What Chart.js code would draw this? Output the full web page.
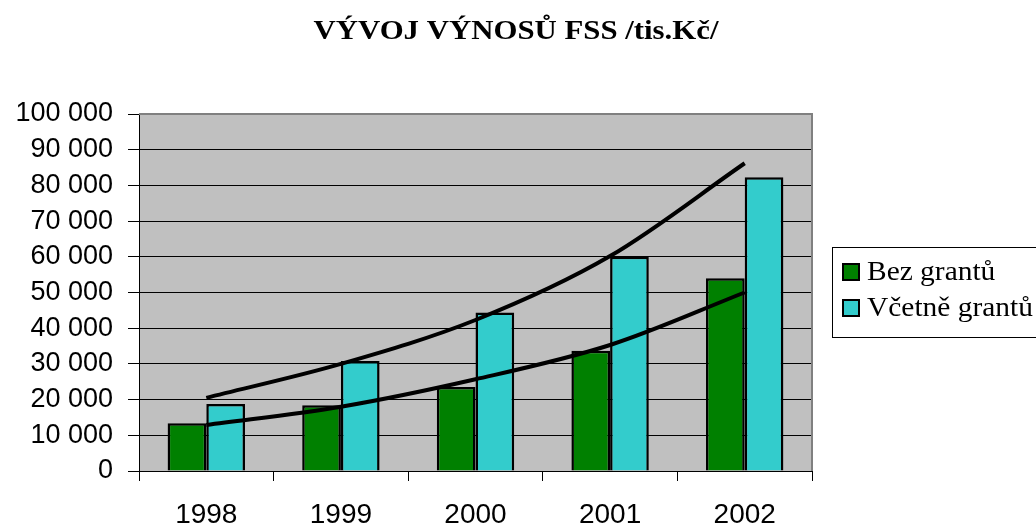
<!DOCTYPE html>
<html>
<head>
<meta charset="utf-8">
<title>Vývoj výnosů FSS</title>
<script src="https://cdn.jsdelivr.net/npm/chart.js@4"></script>
<style>
    html, body { margin: 0; padding: 0; background: #fff; overflow: hidden; }
    #wrap { width: 1036px; height: 524px; }
</style>
</head>
<body>
<div id="wrap"><canvas id="myChart" width="1036" height="524"></canvas></div>
<script>
// données (tis. Kč)
const nadpis = 'VÝVOJ VÝNOSŮ FSS /tis.Kč/';
const roky = ['1998', '1999', '2000', '2001', '2002'];
const bezGrantu = [13400, 18400, 23500, 33700, 54000];
const vcetneGrantu = [18800, 30800, 44400, 60000, 82300];
// courbes de tendance (exponentielles)
const trendBez = [12900, 18000, 25700, 35300, 50000];
const trendVcetne = [20500, 30000, 42300, 60200, 86200];
const yTicks = [0, 10000, 20000, 30000, 40000, 50000, 60000, 70000, 80000, 90000, 100000];

function formatNum(v) {
    return String(v).replace(/\B(?=(\d{3})+(?!\d))/g, ' ');
}

// fond gris + bordure du graphique + titre
const plotArea = {
    id: 'plotArea',
    beforeDraw(chart) {
        const a = chart.chartArea;
        const ctx = chart.ctx;
        ctx.save();
        ctx.fillStyle = '#c0c0c0';
        ctx.fillRect(a.left, a.top, a.right - a.left, a.bottom - a.top);
        ctx.restore();
    },
    afterDraw(chart) {
        const a = chart.chartArea;
        const ctx = chart.ctx;
        ctx.save();
        ctx.strokeStyle = '#808080';
        ctx.lineWidth = 2;
        ctx.beginPath();
        ctx.moveTo(a.left, a.top);
        ctx.lineTo(a.right, a.top);
        ctx.lineTo(a.right, a.bottom);
        ctx.stroke();
        ctx.restore();

        // titre, un peu étiré en largeur comme dans l'original
        ctx.save();
        ctx.font = 'bold 28px "Liberation Serif", "Times New Roman", serif';
        ctx.fillStyle = '#000';
        ctx.textAlign = 'center';
        ctx.textBaseline = 'alphabetic';
        ctx.translate(516, 39);
        ctx.scale(1.1, 1);
        ctx.fillText(nadpis, 0, 0);
        ctx.restore();
    }
};

// légende encadrée à droite
const boxLegend = {
    id: 'boxLegend',
    afterDraw(chart) {
        const ctx = chart.ctx;
        const items = chart.data.datasets.filter(d => d.type === 'bar');
        const x = 832, y = 247, w = 230, h = 90;
        ctx.save();
        ctx.fillStyle = '#fff';
        ctx.fillRect(x, y, w, h);
        ctx.strokeStyle = '#000';
        ctx.lineWidth = 1;
        ctx.strokeRect(x + 0.5, y + 0.5, w, h);
        ctx.font = '27px "Liberation Serif", "Times New Roman", serif';
        ctx.textBaseline = 'middle';
        items.forEach((d, i) => {
            const cy = 272 + i * 36;
            ctx.fillStyle = d.backgroundColor;
            ctx.fillRect(843, cy - 8, 16, 16);
            ctx.lineWidth = 2;
            ctx.strokeStyle = '#000';
            ctx.strokeRect(843, cy - 8, 16, 16);
            ctx.save();
            ctx.translate(867, cy + 1);
            ctx.scale(1.09, 1);
            ctx.fillStyle = '#000';
            ctx.fillText(d.label, 0, 0);
            ctx.restore();
        });
        ctx.restore();
    }
};

const ctx = document.getElementById('myChart').getContext('2d');
const myChart = new Chart(ctx, {
    data: {
        labels: roky,
        datasets: [
            {
                type: 'line',
                label: 'trend Včetně',
                data: trendVcetne,
                borderColor: '#000',
                borderWidth: 4,
                pointRadius: 0,
                cubicInterpolationMode: 'monotone',
                fill: false,
                order: 0
            },
            {
                type: 'line',
                label: 'trend Bez',
                data: trendBez,
                borderColor: '#000',
                borderWidth: 4,
                pointRadius: 0,
                cubicInterpolationMode: 'monotone',
                fill: false,
                order: 0
            },
            {
                type: 'bar',
                label: 'Bez grantů',
                data: bezGrantu,
                backgroundColor: '#008000',
                borderColor: '#000',
                borderWidth: 2.5,
                categoryPercentage: 0.575,
                barPercentage: 1,
                order: 1
            },
            {
                type: 'bar',
                label: 'Včetně grantů',
                data: vcetneGrantu,
                backgroundColor: '#33cccc',
                borderColor: '#000',
                borderWidth: 2.5,
                categoryPercentage: 0.575,
                barPercentage: 1,
                order: 1
            }
        ]
    },
    options: {
        responsive: false,
        animation: false,
        layout: {
            padding: { left: 0, right: 224, top: 114, bottom: 0 }
        },
        plugins: {
            legend: { display: false },
            tooltip: { enabled: false },
            title: { display: false }
        },
        scales: {
            x: {
                offset: true,
                grid: {
                    offset: true,
                    drawOnChartArea: false,
                    drawTicks: true,
                    tickLength: 10,
                    color: '#000'
                },
                border: { color: '#000', width: 1 },
                ticks: {
                    color: '#000',
                    padding: 17,
                    maxRotation: 0,
                    font: { family: '"Liberation Sans", Arial, sans-serif', size: 28 }
                },
                afterFit(scale) { scale.height = 53; }
            },
            y: {
                min: 0,
                max: 100000,
                afterBuildTicks(scale) {
                    scale.ticks = yTicks.map(v => ({ value: v }));
                },
                grid: {
                    color: '#000',
                    lineWidth: 1,
                    tickLength: 11
                },
                border: { color: '#000', width: 1 },
                ticks: {
                    color: '#000',
                    padding: 15,
                    font: { family: '"Liberation Sans", Arial, sans-serif', size: 27 },
                    callback: v => formatNum(v)
                },
                afterFit(scale) { scale.width = 139; }
            }
        }
    },
    plugins: [plotArea, boxLegend]
});
</script>
</body>
</html>
